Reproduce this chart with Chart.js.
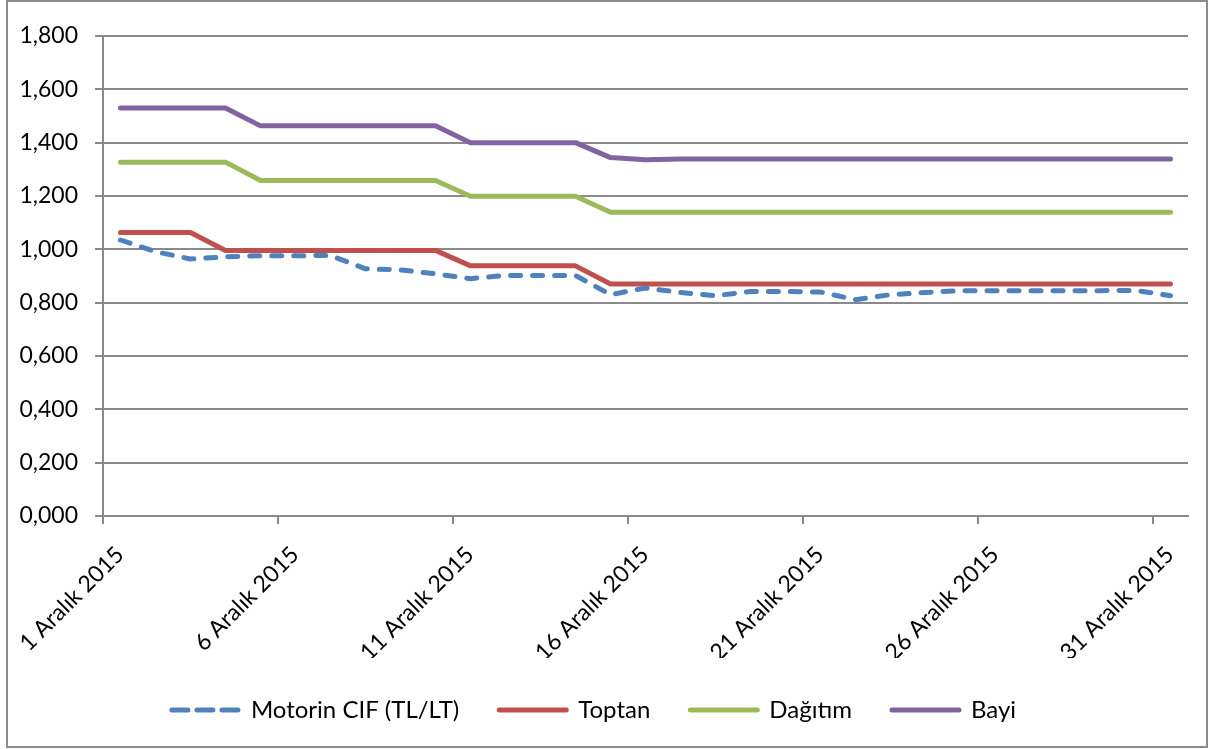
<!DOCTYPE html>
<html>
<head>
<meta charset="utf-8">
<script src="https://cdn.jsdelivr.net/npm/chart.js@4"></script>
<style>
  body { margin: 0; background: #fff; }
  #wrap { width: 1212px; height: 749px; }
</style>
</head>
<body>
<div id="wrap"><canvas id="myChart" width="1212" height="749"></canvas></div>
<script>
// Aralik 2015, gunluk
const days = [1, 2, 3, 4, 5, 6, 7, 8, 9, 10, 11, 12, 13, 14, 15, 16,
  17, 18, 19, 20, 21, 22, 23, 24, 25, 26, 27, 28, 29, 30, 31];

const tickLabels = ["1 Aralık 2015", "6 Aralık 2015", "11 Aralık 2015",
  "16 Aralık 2015", "21 Aralık 2015", "26 Aralık 2015", "31 Aralık 2015"];

const motorinCif = [1.035, 0.991, 0.964, 0.972, 0.976, 0.976, 0.977, 0.927,
  0.923, 0.908, 0.890, 0.902, 0.902, 0.902, 0.830, 0.855, 0.838, 0.826,
  0.842, 0.842, 0.840, 0.811, 0.830, 0.838, 0.845, 0.845, 0.845, 0.845,
  0.845, 0.846, 0.826];

const toptan = [1.063, 1.063, 1.063, 0.996, 0.996, 0.996, 0.996, 0.996,
  0.996, 0.996, 0.938, 0.938, 0.938, 0.938, 0.870, 0.870, 0.870, 0.870,
  0.870, 0.870, 0.870, 0.870, 0.870, 0.870, 0.870, 0.870, 0.870, 0.870,
  0.870, 0.870, 0.870];

const dagitim = [1.327, 1.327, 1.327, 1.327, 1.258, 1.258, 1.258, 1.258,
  1.258, 1.258, 1.199, 1.199, 1.199, 1.199, 1.139, 1.139, 1.139, 1.139,
  1.139, 1.139, 1.139, 1.139, 1.139, 1.139, 1.139, 1.139, 1.139, 1.139,
  1.139, 1.139, 1.139];

const bayi = [1.530, 1.530, 1.530, 1.530, 1.463, 1.463, 1.463, 1.463,
  1.463, 1.463, 1.400, 1.400, 1.400, 1.400, 1.344, 1.336, 1.339, 1.339,
  1.339, 1.339, 1.339, 1.339, 1.339, 1.339, 1.339, 1.339, 1.339, 1.339,
  1.339, 1.339, 1.339];

// every point sits in the middle of its day
const toPoints = (values) => values.map((v, i) => ({ x: days[i] - 0.5, y: v }));

const line = (label, values, color, dash) => ({
  label: label,
  data: toPoints(values),
  borderColor: color,
  backgroundColor: color,
  borderWidth: 5,
  borderDash: dash,
  borderCapStyle: "round",
  borderJoinStyle: "round",
  pointRadius: 0,
  tension: 0,
  fill: false,
});

const gridColor = "#8a8a8a";

// gray frame around the whole chart
const frame = {
  id: "frame",
  beforeDraw(chart) {
    const ctx = chart.ctx;
    ctx.save();
    ctx.fillStyle = "#fff";
    ctx.fillRect(0, 0, chart.width, chart.height);
    ctx.strokeStyle = "#8c8c8c";
    ctx.lineWidth = 2;
    ctx.strokeRect(7, 1, 1200, 746);
    ctx.restore();
  },
};

Chart.defaults.font.family = "Lato, 'Open Sans', sans-serif";
Chart.defaults.color = "#000";

const config = {
  type: "line",
  data: {
    datasets: [
      line("Motorin CIF (TL/LT)", motorinCif, "#4F81BD", [10, 12]),
      line("Toptan", toptan, "#C0504D", []),
      line("Dağıtım", dagitim, "#9BBB59", []),
      line("Bayi", bayi, "#8064A2", []),
    ],
  },
  options: {
    responsive: false,
    animation: false,
    layout: { padding: { left: 0, right: 24, top: 36, bottom: 17 } },
    plugins: {
      tooltip: { enabled: false },
      legend: {
        position: "bottom",
        labels: {
          usePointStyle: true,
          pointStyle: "line",
          pointStyleWidth: 67,
          padding: 40,
          font: { size: 24 },
          color: "#000",
          generateLabels: (chart) => {
            const items = Chart.defaults.plugins.legend.labels.generateLabels(chart);
            items.forEach((item) => {
              const ds = chart.data.datasets[item.datasetIndex];
              item.lineDash = ds.borderDash.length ? [16, 9] : [];
              item.lineCap = "round";
              item.lineWidth = 5;
              item.strokeStyle = ds.borderColor;
            });
            return items;
          },
        },
      },
    },
    scales: {
      x: {
        type: "linear",
        min: 0,
        max: 31,
        afterBuildTicks: (scale) => {
          scale.ticks = tickLabels.map((t, i) => ({ value: i * 5 }));
        },
        afterFit: (scale) => {
          scale.height = 142;
          scale.paddingLeft = 0;
          scale.paddingRight = 0;
        },
        ticks: {
          autoSkip: false,
          minRotation: 45,
          maxRotation: 45,
          padding: 17,
          labelOffset: 17,
          font: { size: 23 },
          callback: (value, index) => tickLabels[index],
        },
        grid: {
          drawOnChartArea: false,
          drawTicks: true,
          tickLength: 8,
          color: gridColor,
          lineWidth: 2,
        },
        border: { color: gridColor, width: 2 },
      },
      y: {
        min: 0,
        max: 1.8,
        afterFit: (scale) => { scale.width = 103; },
        ticks: {
          stepSize: 0.2,
          padding: 17,
          font: { size: 23 },
          callback: (value) => value.toFixed(3).replace(".", ","),
        },
        grid: {
          color: gridColor,
          lineWidth: 2,
          tickLength: 8,
        },
        border: { color: gridColor, width: 2 },
      },
    },
  },
  plugins: [frame],
};

new Chart(document.getElementById("myChart"), config);
</script>
</body>
</html>
